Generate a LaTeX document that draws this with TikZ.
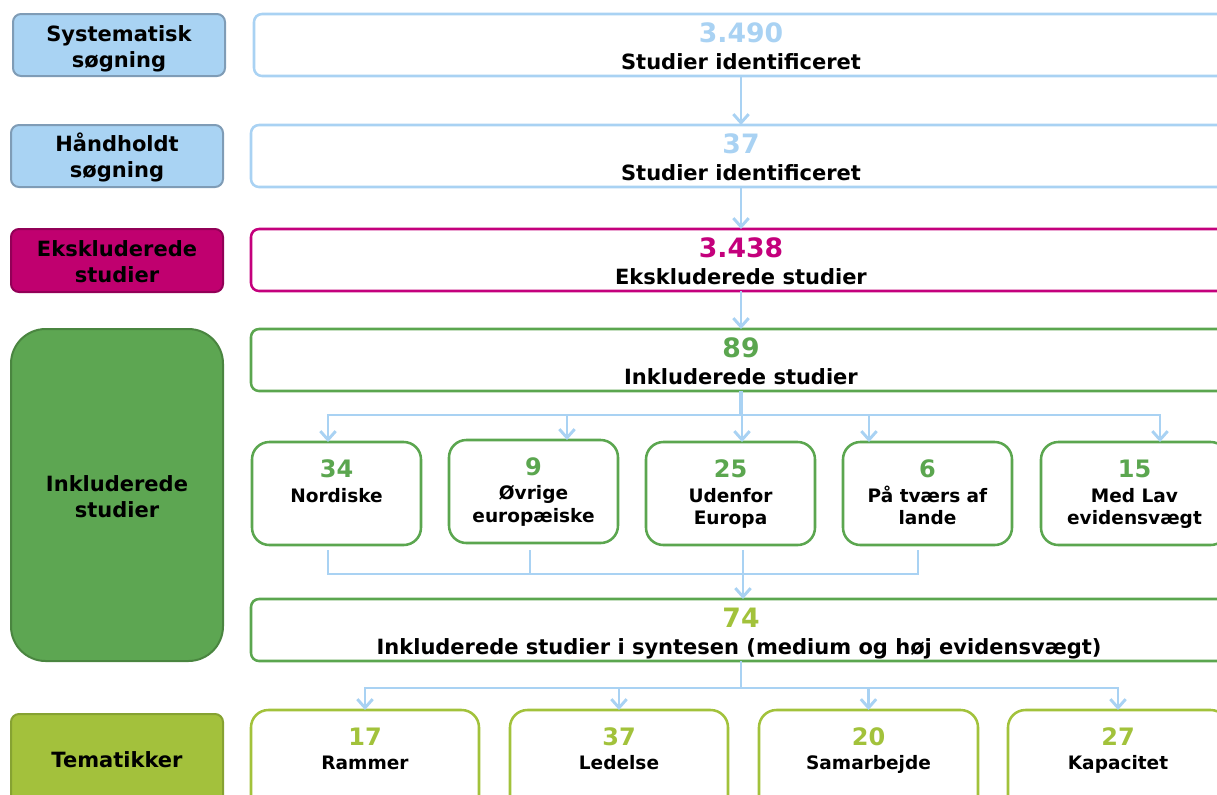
\documentclass[tikz,border=0pt]{standalone}
\usepackage{fontspec}
\setmainfont{DejaVu Sans}
\usetikzlibrary{arrows.meta}
\definecolor{flowblue}{HTML}{A9D2F3}
\definecolor{searchfill}{HTML}{A9D3F3}
\definecolor{searchedge}{HTML}{7F9CB6}
\definecolor{exclmag}{HTML}{C4007C}
\definecolor{exclfill}{HTML}{C0006F}
\definecolor{excledge}{HTML}{920057}
\definecolor{inclgreen}{HTML}{5BA64F}
\definecolor{inclfill}{HTML}{5DA652}
\definecolor{incledge}{HTML}{4A8540}
\definecolor{themelime}{HTML}{A2C23B}
\definecolor{themefill}{HTML}{A3C13C}
\definecolor{themeedge}{HTML}{86A232}

\begin{document}
\begin{tikzpicture}[x=0.75pt, y=-0.75pt,
  every node/.style={inner sep=0pt, outer sep=0pt},
  boxsize/.style 2 args={minimum width={#1*0.75pt}, minimum height={#2*0.75pt}},
  sidebox/.style 2 args={draw=#1, fill=#2, line width=1.5pt, rounded corners=6pt},
  flowbox/.style={draw=#1, fill=white, line width=1.9pt, rounded corners=6pt},
  subbox/.style={draw=#1, fill=white, line width=1.9pt, rounded corners=13pt},
  linetxt/.style={anchor=base, font=\bfseries\fontsize{15.75}{18}\selectfont},
  bignum/.style={anchor=base, text=#1, font=\bfseries\fontsize{20}{24}\selectfont},
  smalltxt/.style={anchor=base, font=\bfseries\fontsize{13.9}{16}\selectfont},
  smallnum/.style={anchor=base, text=#1, font=\bfseries\fontsize{18}{22}\selectfont},
  conn/.style={draw=flowblue, line width=2.2pt},
  arr/.style={conn, -{Straight Barb[length=6.5pt, width=11.5pt]}},
]
\useasboundingbox (0,0) rectangle (1217,794);
\clip (0,0) rectangle (1217,794);

% ---- left-hand category labels ----
\node[sidebox={searchedge}{searchfill}, boxsize={212}{62}] (sys) at (119,45) {};
\node[sidebox={searchedge}{searchfill}, boxsize={212}{62}] (hand) at (117,156) {};
\node[sidebox={excledge}{exclfill}, boxsize={212}{63}] (excl) at (117,260.5) {};
\node[sidebox={incledge}{inclfill}, boxsize={212}{332}, rounded corners=26pt] (incl) at (117,495) {};
\node[sidebox={themeedge}{themefill}, boxsize={212}{116}] (theme) at (117,772) {};

\node[linetxt] (sysa) at (119,41) {Systematisk};
\node[linetxt] (sysb) at (119,67) {søgning};
\node[linetxt] (handa) at (117,151) {Håndholdt};
\node[linetxt] (handb) at (117,177) {søgning};
\node[linetxt] (excla) at (117,256) {Ekskluderede};
\node[linetxt] (exclb) at (117,282) {studier};
\node[linetxt] (incla) at (117,491) {Inkluderede};
\node[linetxt] (inclb) at (117,517) {studier};
\node[linetxt] (themea) at (117,767) {Tematikker};

% ---- main flow boxes ----
\node[flowbox=flowblue, boxsize={974}{62}] (s1) at (741,45) {};
\node[flowbox=flowblue, boxsize={980}{62}] (s2) at (741,156) {};
\node[flowbox=exclmag, boxsize={980}{62}] (s3) at (741,260) {};
\node[flowbox=inclgreen, boxsize={980}{62}] (s4) at (741,360) {};
\node[flowbox=inclgreen, boxsize={980}{62}] (s5) at (741,630) {};

\node[bignum=flowblue] (s1n) at (741,42) {3.490};
\node[linetxt] (s1t) at (741,69) {Studier identificeret};
\node[bignum=flowblue] (s2n) at (741,153) {37};
\node[linetxt] (s2t) at (741,180) {Studier identificeret};
\node[bignum=exclmag] (s3n) at (741,257) {3.438};
\node[linetxt] (s3t) at (741,284) {Ekskluderede studier};
\node[bignum=inclgreen] (s4n) at (741,357) {89};
\node[linetxt] (s4t) at (741,384) {Inkluderede studier};
\node[bignum=themelime] (s5n) at (741,627) {74};
\node[linetxt] (s5t) at (739,654) {Inkluderede studier i syntesen (medium og høj evidensvægt)};

% ---- regional breakdown ----
\node[subbox=inclgreen, boxsize={169}{103}] (c1) at (336.5,493.5) {};
\node[subbox=inclgreen, boxsize={169}{103}] (c2) at (533.5,491.5) {};
\node[subbox=inclgreen, boxsize={169}{103}] (c3) at (730.5,493.5) {};
\node[subbox=inclgreen, boxsize={169}{103}] (c4) at (927.5,493.5) {};
\node[subbox=inclgreen, boxsize={187}{103}] (c5) at (1134.5,493.5) {};

\node[smallnum=inclgreen] (c1n) at (336.5,477) {34};
\node[smalltxt] (c1a) at (336.5,502) {Nordiske};
\node[smallnum=inclgreen] (c2n) at (533.5,475) {9};
\node[smalltxt] (c2a) at (533.5,499) {Øvrige};
\node[smalltxt] (c2b) at (533.5,522) {europæiske};
\node[smallnum=inclgreen] (c3n) at (730.5,477) {25};
\node[smalltxt] (c3a) at (730.5,502) {Udenfor};
\node[smalltxt] (c3b) at (730.5,524) {Europa};
\node[smallnum=inclgreen] (c4n) at (927.5,477) {6};
\node[smalltxt] (c4a) at (927.5,502) {På tværs af};
\node[smalltxt] (c4b) at (927.5,524) {lande};
\node[smallnum=inclgreen] (c5n) at (1134.5,477) {15};
\node[smalltxt] (c5a) at (1134.5,502) {Med Lav};
\node[smalltxt] (c5b) at (1134.5,524) {evidensvægt};

% ---- themes ----
\node[subbox=themelime, boxsize={228}{110}] (t1) at (365,765) {};
\node[subbox=themelime, boxsize={218}{110}] (t2) at (619,765) {};
\node[subbox=themelime, boxsize={219}{110}] (t3) at (868.5,765) {};
\node[subbox=themelime, boxsize={220}{110}] (t4) at (1118,765) {};

\node[smallnum=themelime] (t1n) at (365,745) {17};
\node[smalltxt] (t1a) at (365,769) {Rammer};
\node[smallnum=themelime] (t2n) at (619,745) {37};
\node[smalltxt] (t2a) at (619,769) {Ledelse};
\node[smallnum=themelime] (t3n) at (868.5,745) {20};
\node[smalltxt] (t3a) at (868.5,769) {Samarbejde};
\node[smallnum=themelime] (t4n) at (1118,745) {27};
\node[smalltxt] (t4a) at (1118,769) {Kapacitet};

% ---- connectors: main chain ----
\draw[arr] (s1.south) -- (s2.north);
\draw[arr] (s2.south) -- (s3.north);
\draw[arr] (s3.south) -- (s4.north);

% ---- split into regions ----
\coordinate (split) at (742,415);
\coordinate (ca1) at (328,415);
\coordinate (ca2) at (567,415);
\coordinate (ca3) at (742,415);
\coordinate (ca4) at (869,415);
\coordinate (ca5) at (1160,415);
\draw[conn, line width=3.5pt] (s4.south) -- (s4.south |- split);
\draw[conn, line cap=rect] (ca1) -- (ca5);
\foreach \i in {1,...,5} \draw[arr] (ca\i) -- (ca\i |- c\i.north);

% ---- merge into synthesis ----
\path (c1.south) ++(-8.5,5) coordinate (m1);
\path (c2.south) ++(-3.5,7) coordinate (m2);
\path (c3.south) ++(12.5,5) coordinate (m3);
\path (c4.south) ++(-9.5,5) coordinate (m4);
\coordinate (mj) at (743,574);
\draw[conn] (m1) -- (m1 |- mj) -- (m4 |- mj) -- (m4);
\draw[conn] (m2) -- (m2 |- mj);
\draw[arr] (m3) -- (m3 |- s5.north);

% ---- split into themes ----
\coordinate (tj) at (740,688);
\draw[conn] (s5.south) -- (s5.south |- tj);
\draw[conn, line cap=rect] (t1.north |- tj) -- (t4.north |- tj);
\foreach \i in {1,...,4} \draw[arr] (t\i.north |- tj) -- (t\i.north);
\end{tikzpicture}
\end{document}
